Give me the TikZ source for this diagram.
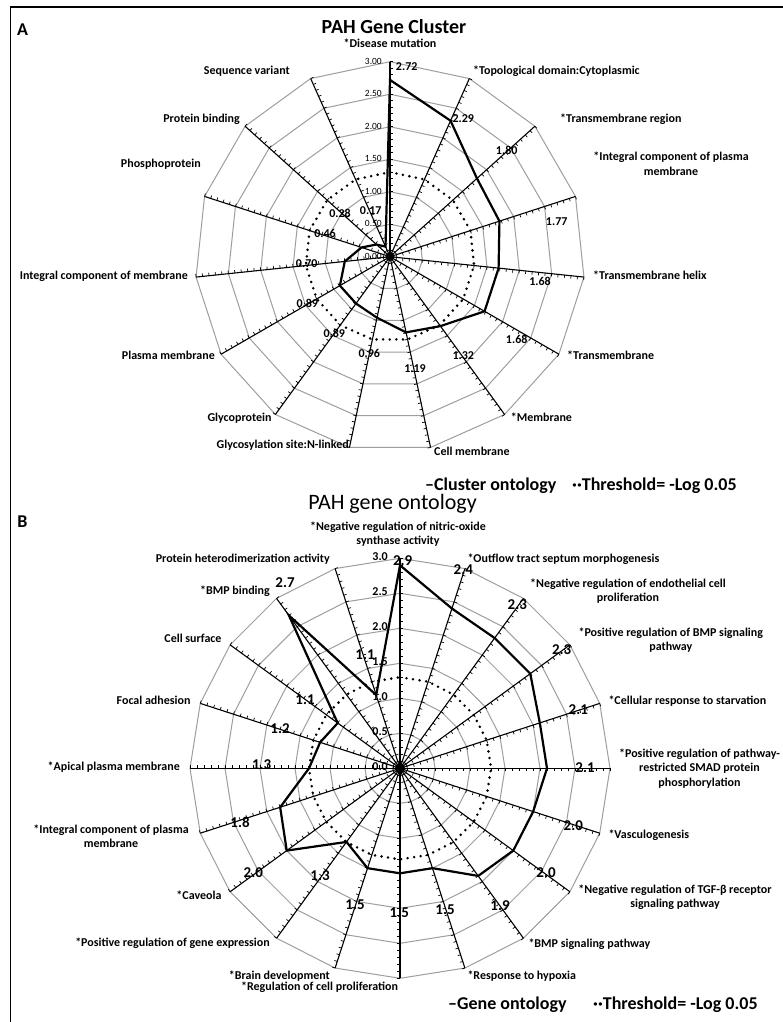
\documentclass[tikz,border=0pt]{standalone}
\usepackage{fontspec}
\setmainfont{Carlito}
\begin{document}
\begin{tikzpicture}[x=1pt,y=-1pt,
  gridline/.style={draw=black!38, line width=1pt},
  axisline/.style={draw=black, line width=1.1pt},
  tickmark/.style={draw=black, line width=0.7pt},
  dataline/.style={draw=black, line width=2.2pt, line join=miter},
  thresh/.style={draw=black, line width=2.8pt, line cap=round, dash pattern=on 0pt off 6.6pt},
  cat/.style={font=\bfseries\fontsize{12}{14.6}\selectfont, inner sep=0pt, align=center},
  valA/.style={font=\bfseries\fontsize{12}{14}\selectfont, inner sep=0pt, anchor=mid},
  valB/.style={font=\bfseries\fontsize{15}{17}\selectfont, inner sep=0pt, anchor=mid},
  scaleA/.style={font=\fontsize{9.5}{11}\selectfont, inner sep=0pt, anchor=mid east},
  scaleB/.style={font=\bfseries\fontsize{12}{14}\selectfont, inner sep=0pt, anchor=mid east},
  legend/.style={font=\bfseries\fontsize{18}{20}\selectfont, inner sep=0pt, anchor=mid west},
  panel/.style={font=\bfseries\fontsize{18}{20}\selectfont, inner sep=0pt, anchor=mid},
  frame/.style={draw=black, line width=1.3pt}
]
\useasboundingbox (0,0) rectangle (783,1022);
\fill[white] (0,0) rectangle (783,1022);
% frame
\coordinate (f1) at (783,7);
\coordinate (f2) at (10.5,7);
\coordinate (f3) at (10.5,1022);
\draw[frame] (f1) -- (f2) -- (f3);

% ================= Chart A =================
\def\Acx{390}\def\Acy{256.7}\def\Aun{65}
\foreach \j in {1,...,6} {
  \pgfmathsetmacro\lv{\j*0.5*\Aun}
  \draw[gridline] (\Acx,{\Acy-\lv}) \foreach \k in {1,...,14}{ -- ({\Acx+\lv*sin(\k*24)},{\Acy-\lv*cos(\k*24)}) } -- cycle;
}
\foreach \k in {0,...,14} {
  \coordinate (ae\k) at ({\Acx+3*\Aun*sin(\k*24)},{\Acy-3*\Aun*cos(\k*24)});
  \draw[axisline] (\Acx,\Acy) -- (ae\k);
  \foreach \t in {0,...,30}
    \draw[tickmark] ({\Acx+\t*0.1*\Aun*sin(\k*24)},{\Acy-\t*0.1*\Aun*cos(\k*24)}) -- ++({3*cos(\k*24)},{3*sin(\k*24)});
}
\fill (\Acx,\Acy) circle (4.5);
% threshold
\pgfmathsetmacro\Ath{1.301*\Aun}
\draw[thresh] (\Acx,{\Acy-\Ath}) \foreach \k in {1,...,14}{ -- ({\Acx+\Ath*sin(\k*24)},{\Acy-\Ath*cos(\k*24)}) } -- cycle;
% data
\foreach \v [count=\i from 0] in {2.72,2.29,1.80,1.77,1.68,1.68,1.32,1.19,0.96,0.89,0.89,0.70,0.46,0.28,0.17}
  \coordinate (pa\i) at ({\Acx+\v*\Aun*sin(\i*24)},{\Acy-\v*\Aun*cos(\i*24)});
\draw[dataline] (pa0) \foreach \i in {1,...,14}{ -- (pa\i) } -- cycle;
% scale labels
\foreach \s [count=\i from 0] in {0.00,0.50,1.00,1.50,2.00,2.50,3.00}
  \node[scaleA] (sa\i) at (382,{\Acy-\i*0.5*\Aun}) {\s};
% value labels
\foreach \txt/\x/\y [count=\i] in {2.72/406.7/68.3, 2.29/463.3/120, 1.80/506.7/151.7, 1.77/556.7/223.3,
  1.68/540/283.3, 1.68/516.7/341, 1.32/463.3/356.7, 1.19/415/370, 0.96/369.3/355, 0.89/334.3/335,
  0.89/307.3/305, 0.70/306.7/265, 0.46/325/235, 0.28/340/215, 0.17/370.7/211.7}
  \node[valA] (va\i) at (\x,\y) {\txt};
% category labels
\node[cat, anchor=mid] (ca0) at (390,45) {*Disease mutation};
\node[cat, anchor=mid west] (ca1) at (473,71.7) {*Topological domain:Cytoplasmic};
\node[cat, anchor=mid west] (ca2) at (560,120) {*Transmembrane region};
\node[cat] (ca3) at (671,164) {*Integral component of plasma\\membrane};
\node[cat, anchor=mid west] (ca4) at (593,276.7) {*Transmembrane helix};
\node[cat, anchor=mid west] (ca5) at (567,356.7) {*Transmembrane};
\node[cat, anchor=mid west] (ca6) at (510.7,419.3) {*Membrane};
\node[cat, anchor=mid west] (ca7) at (434,452.7) {Cell membrane};
\node[cat, anchor=mid east] (ca8) at (349,446) {Glycosylation site:N-linked};
\node[cat, anchor=mid east] (ca9) at (271.7,419.3) {Glycoprotein};
\node[cat, anchor=mid east] (ca10) at (215,357.3) {Plasma membrane};
\node[cat, anchor=mid east] (ca11) at (188,277.3) {Integral component of membrane};
\node[cat, anchor=mid east] (ca12) at (201,165) {Phosphoprotein};
\node[cat, anchor=mid east] (ca13) at (240,120) {Protein binding};
\node[cat, anchor=mid east] (ca14) at (290,71.7) {Sequence variant};
% titles and legend
\node[panel] (pA) at (22.5,33) {A};
\node[font=\bfseries\fontsize{20}{22}\selectfont, inner sep=0pt, anchor=mid] (tA) at (394,31) {PAH Gene Cluster};
\node[legend] (lA1) at (425,488.3) {–Cluster ontology};
\node[legend] (lA2) at (572,488.3) {··Threshold= -Log 0.05};

% ================= Chart B =================
\def\Bcx{400}\def\Bcy{768.3}\def\Bun{70}
\foreach \j in {1,...,6} {
  \pgfmathsetmacro\lv{\j*0.5*\Bun}
  \draw[gridline] (\Bcx,{\Bcy-\lv}) \foreach \k in {1,...,19}{ -- ({\Bcx+\lv*sin(\k*18)},{\Bcy-\lv*cos(\k*18)}) } -- cycle;
}
\foreach \k in {0,...,19} {
  \coordinate (be\k) at ({\Bcx+3*\Bun*sin(\k*18)},{\Bcy-3*\Bun*cos(\k*18)});
  \draw[axisline] (\Bcx,\Bcy) -- (be\k);
  \foreach \t in {0,...,30}
    \draw[tickmark] ({\Bcx+\t*0.1*\Bun*sin(\k*18)},{\Bcy-\t*0.1*\Bun*cos(\k*18)}) -- ++({3*cos(\k*18)},{3*sin(\k*18)});
}
\fill (\Bcx,\Bcy) circle (5);
\pgfmathsetmacro\Bth{1.301*\Bun}
\draw[thresh] (\Bcx,{\Bcy-\Bth}) \foreach \k in {1,...,19}{ -- ({\Bcx+\Bth*sin(\k*18)},{\Bcy-\Bth*cos(\k*18)}) } -- cycle;
\foreach \v [count=\i from 0] in {2.9,2.4,2.3,2.3,2.1,2.1,2.0,2.0,1.9,1.5,1.5,1.5,1.3,2.0,1.8,1.3,1.2,1.1,2.7,1.1}
  \coordinate (pb\i) at ({\Bcx+\v*\Bun*sin(\i*18)},{\Bcy-\v*\Bun*cos(\i*18)});
\draw[dataline] (pb0) \foreach \i in {1,...,19}{ -- (pb\i) } -- cycle;
\foreach \s [count=\i from 0] in {0.0,0.5,1.0,1.5,2.0,2.5,3.0}
  \node[scaleB] (sb\i) at (388,{\Bcy-\i*0.5*\Bun}) {\s};
\foreach \txt/\x/\y [count=\i] in {2.9/402.7/562.7, 2.4/463.3/571.7, 2.3/517.3/607.3, 2.3/561.7/652.3,
  2.1/578.3/711.7, 2.1/585/770, 2.0/573.3/828.3, 2.0/546/875, 1.9/500/907.7, 1.5/445/911.7,
  1.5/399.3/915, 1.5/355/906.7, 1.3/320/878.3, 2.0/253.3/875, 1.8/240/825, 1.3/261.7/766.7,
  1.2/280/730.7, 1.1/305/701.7, 2.7/285/585, 1.1/365/656.7}
  \node[valB] (vb\i) at (\x,\y) {\txt};
\node[cat] (cb0) at (398,534.3) {*Negative regulation of nitric-oxide\\synthase activity};
\node[cat, anchor=mid west] (cb1) at (467.3,560) {*Outflow tract septum morphogenesis};
\node[cat] (cb2) at (628,591.2) {*Negative regulation of endothelial cell\\proliferation};
\node[cat] (cb3) at (670.8,640.2) {*Positive regulation of BMP signaling\\pathway};
\node[cat, anchor=mid west] (cb4) at (608.3,701.7) {*Cellular response to starvation};
\node[cat] (cb5) at (699.5,768.3) {*Positive regulation of pathway-\\restricted SMAD protein\\phosphorylation};
\node[cat, anchor=mid west] (cb6) at (608.3,836) {*Vasculogenesis};
\node[cat] (cb7) at (675,897.2) {*Negative regulation of TGF-β receptor\\signaling pathway};
\node[cat, anchor=mid west] (cb8) at (528.3,945) {*BMP signaling pathway};
\node[cat, anchor=mid west] (cb9) at (467.3,977.3) {*Response to hypoxia};
\node[cat, anchor=mid east] (cb10) at (398.3,987.7) {*Regulation of cell proliferation};
\node[cat, anchor=mid east] (cb11) at (330,977.3) {*Brain development};
\node[cat, anchor=mid east] (cb12) at (270,944.3) {*Positive regulation of gene expression};
\node[cat, anchor=mid east] (cb13) at (221.7,896.7) {*Caveola};
\node[cat] (cb14) at (111,836.3) {*Integral component of plasma\\membrane};
\node[cat, anchor=mid east] (cb15) at (180,768.3) {*Apical plasma membrane};
\node[cat, anchor=mid east] (cb16) at (190.7,701.7) {Focal adhesion};
\node[cat, anchor=mid east] (cb17) at (221.7,640) {Cell surface};
\node[cat, anchor=mid east] (cb18) at (270,591.7) {*BMP binding};
\node[cat, anchor=mid east] (cb19) at (330,560) {Protein heterodimerization activity};
\node[panel] (pB) at (22.5,525) {B};
\node[font=\fontsize{22}{24}\selectfont, inner sep=0pt, anchor=mid] (tB) at (392.5,506.7) {PAH gene ontology};
\node[legend] (lB1) at (448,1007) {–Gene ontology};
\node[legend] (lB2) at (593,1007) {··Threshold= -Log 0.05};
\end{tikzpicture}
\end{document}
